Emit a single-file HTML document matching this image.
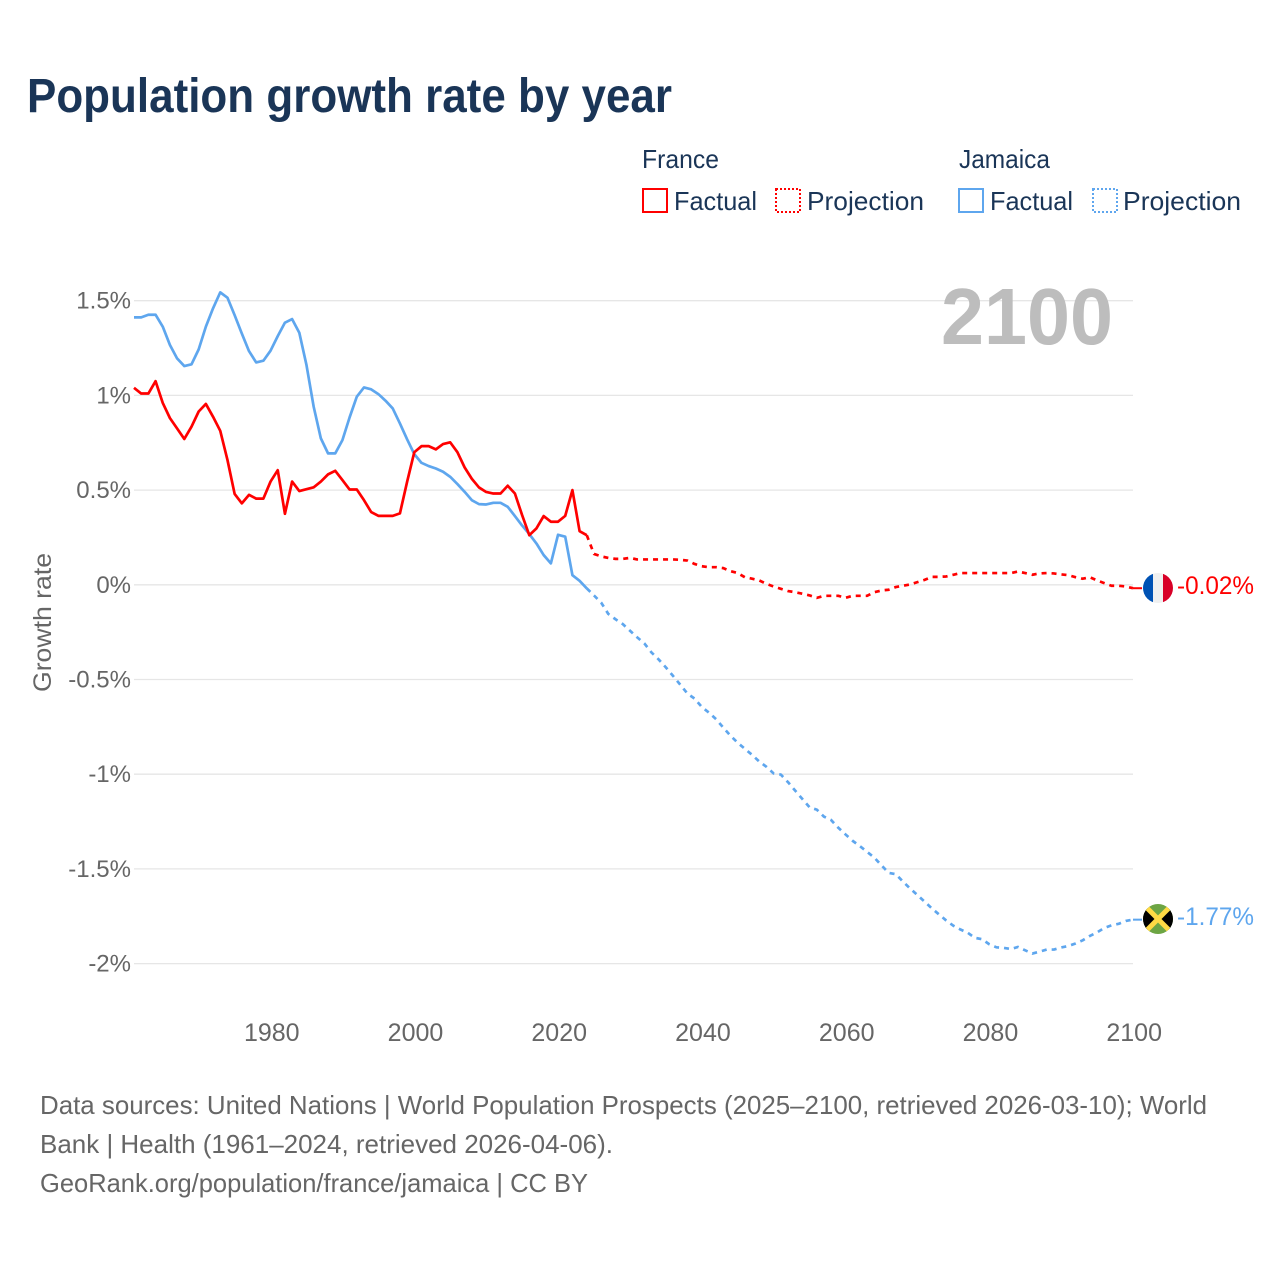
<!DOCTYPE html>
<html lang="en">
<head>
<meta charset="utf-8">
<title>Population growth rate by year</title>
<style>
html,body{margin:0;padding:0;background:#fff;}
svg{display:block;font-family:"Liberation Sans",sans-serif;}
</style>
</head>
<body>
<svg id="chart" width="1280" height="1280" viewBox="0 0 1280 1280" xmlns="http://www.w3.org/2000/svg">
<rect width="1280" height="1280" fill="#fff"/>
<defs>
<clipPath id="flag-clip-fr"><circle cx="1158" cy="588" r="15"/></clipPath>
<clipPath id="flag-clip-jm"><circle cx="1158" cy="919" r="15"/></clipPath>
</defs>
<text x="27" y="112" font-size="48" font-weight="700" fill="#1a3557" textLength="645" lengthAdjust="spacingAndGlyphs">Population growth rate by year</text>

<g font-size="26" fill="#1a3557">
<text x="642" y="168" textLength="77" lengthAdjust="spacingAndGlyphs">France</text>
<rect x="643" y="189" width="24" height="23" fill="none" stroke="#ff0000" stroke-width="2"/>
<text x="674" y="210" textLength="83" lengthAdjust="spacingAndGlyphs">Factual</text>
<rect x="776" y="189" width="24" height="23" fill="none" stroke="#ff0000" stroke-width="2" stroke-dasharray="2 2"/>
<text x="807" y="210" textLength="117" lengthAdjust="spacingAndGlyphs">Projection</text>
<text x="959" y="168" textLength="91" lengthAdjust="spacingAndGlyphs">Jamaica</text>
<rect x="959" y="189" width="24" height="23" fill="none" stroke="#5ea6ee" stroke-width="2"/>
<text x="990" y="210" textLength="83" lengthAdjust="spacingAndGlyphs">Factual</text>
<rect x="1093" y="189" width="24" height="23" fill="none" stroke="#5ea6ee" stroke-width="2" stroke-dasharray="2 2"/>
<text x="1123" y="210" textLength="118" lengthAdjust="spacingAndGlyphs">Projection</text>
</g>

<g id="grid"></g>
<g id="y-ticks" font-size="24" fill="#666" text-anchor="end"></g>
<g id="x-ticks" font-size="25" fill="#666" text-anchor="middle"></g>
<text transform="translate(51 692) rotate(-90)" font-size="25" fill="#666" textLength="139" lengthAdjust="spacingAndGlyphs">Growth rate</text>
<text x="941" y="344" font-size="80" font-weight="700" fill="#bdbdbd" textLength="172" lengthAdjust="spacingAndGlyphs">2100</text>

<g id="series"></g>

<g clip-path="url(#flag-clip-fr)">
<rect x="1143" y="573" width="10" height="30" fill="#0052b4"/>
<rect x="1153" y="573" width="10" height="30" fill="#f0f0f0"/>
<rect x="1163" y="573" width="10" height="30" fill="#d80027"/>
</g>
<text x="1177" y="594" font-size="25" fill="#ff0000" textLength="77" lengthAdjust="spacingAndGlyphs">-0.02%</text>

<g clip-path="url(#flag-clip-jm)">
<rect x="1143" y="904" width="30" height="30" fill="#6da544"/>
<polygon points="1143,904 1158,919 1143,934" fill="#000"/>
<polygon points="1173,904 1158,919 1173,934" fill="#000"/>
<line x1="1143" y1="904" x2="1173" y2="934" stroke="#ffda44" stroke-width="5"/>
<line x1="1173" y1="904" x2="1143" y2="934" stroke="#ffda44" stroke-width="5"/>
</g>
<text x="1177" y="925" font-size="25" fill="#5ea6ee" textLength="77" lengthAdjust="spacingAndGlyphs">-1.77%</text>

<g font-size="26" fill="#666">
<text x="40" y="1114" textLength="1167" lengthAdjust="spacingAndGlyphs">Data sources: United Nations | World Population Prospects (2025–2100, retrieved 2026-03-10); World</text>
<text x="40" y="1153" textLength="573" lengthAdjust="spacingAndGlyphs">Bank | Health (1961–2024, retrieved 2026-04-06).</text>
<text x="40" y="1192" textLength="548" lengthAdjust="spacingAndGlyphs">GeoRank.org/population/france/jamaica | CC BY</text>
</g>
</svg>
<script>
const firstYear = 1961;
const projectionStartYear = 2024;
const yTickValues = [1.5, 1, 0.5, 0, -0.5, -1, -1.5, -2];
const yTickLabels = ["1.5%", "1%", "0.5%", "0%", "-0.5%", "-1%", "-1.5%", "-2%"];
const xTickYears = [1980, 2000, 2020, 2040, 2060, 2080, 2100];
const xTickLabels = ["1980", "2000", "2020", "2040", "2060", "2080", "2100"];

const franceFactual = [
1.04,1.01,1.01,1.075,.96,.88,.825,.77,.835,.915,
.955,.887,.813,.66,.48,.43,.475,.455,.455,.545,
.605,.375,.545,.495,.505,.515,.545,.583,.602,.553,
.503,.503,.447,.384,.364,.364,.364,.377,.544,.70,
.732,.732,.715,.743,.752,.70,.62,.56,.514,.49,
.482,.482,.523,.482,.368,.262,.298,.363,.333,.333,
.364,.50,.283,.262];

const franceProjection = [
.262,.163,.15,.142,.137,.137,
.142,.134,.134,.134,.134,.134,.134,.132,.128,.11,
.098,.093,.093,.088,.072,.062,.04,.032,.023,.005,
-.009,-.021,-.033,-.039,-.047,-.056,-.069,-.058,-.058,-.058,
-.069,-.058,-.058,-.058,-.039,-.03,-.026,-.012,-.005,.002,
.014,.026,.042,.042,.044,.053,.062,.062,.062,.062,
.062,.062,.062,.062,.07,.062,.053,.06,.062,.06,
.055,.051,.04,.032,.04,.023,.009,-.005,-.005,-.009,
-.018];

const jamaicaFactual = [
1.412,1.412,1.426,1.426,1.363,1.266,1.195,1.155,1.164,1.243,
1.363,1.46,1.544,1.516,1.424,1.327,1.234,1.174,1.183,1.236,
1.313,1.384,1.403,1.331,1.16,.94,.773,.694,.694,.764,
.884,.993,1.042,1.032,1.007,.972,.931,.852,.768,.69,
.644,.627,.614,.597,.57,.532,.491,.447,.426,.424,
.433,.433,.412,.363,.313,.268,.218,.157,.113,.264,
.254,.051,.021,-.019];

const jamaicaProjection = [
-.019,-.056,-.094,-.154,-.182,-.207,
-.242,-.277,-.309,-.357,-.394,-.436,-.481,-.527,-.574,-.601,
-.645,-.675,-.71,-.754,-.797,-.834,-.866,-.898,-.933,-.961,
-.996,-1.002,-1.042,-1.087,-1.131,-1.175,-1.187,-1.224,-1.242,-1.283,
-1.318,-1.352,-1.38,-1.41,-1.44,-1.481,-1.521,-1.528,-1.567,-1.604,
-1.638,-1.673,-1.708,-1.74,-1.772,-1.8,-1.82,-1.837,-1.864,-1.871,
-1.898,-1.914,-1.917,-1.923,-1.912,-1.93,-1.947,-1.937,-1.926,-1.926,
-1.915,-1.907,-1.894,-1.877,-1.854,-1.835,-1.812,-1.798,-1.79,-1.775,
-1.768];

const SVG_NS = "http://www.w3.org/2000/svg";
const RED = "#ff0000";
const BLUE = "#5ea6ee";

function xScale(year) { return 134 + (year - firstYear) * 7.187; }
function yScale(value) { return 584.8 - value * 189.4; }

function linePoints(values, startYear) {
  return values.map(function (v, i) {
    return xScale(startYear + i).toFixed(2) + "," + yScale(v).toFixed(2);
  }).join(" ");
}

const gridGroup = document.getElementById("grid");
const yTickGroup = document.getElementById("y-ticks");
const xTickGroup = document.getElementById("x-ticks");
const seriesGroup = document.getElementById("series");

yTickValues.forEach(function (v, i) {
  const gl = document.createElementNS(SVG_NS, "line");
  
  
  gl.setAttribute("x1", 134);
  gl.setAttribute("x2", 1133);
  gl.setAttribute("y1", yScale(v));
  gl.setAttribute("y2", yScale(v));
  gl.setAttribute("stroke", "#e6e6e6");
  gl.setAttribute("stroke-width", "1.3");
  gridGroup.appendChild(gl);

  const t = document.createElementNS(SVG_NS, "text");
  
  
  t.setAttribute("x", 131);
  t.setAttribute("y", yScale(v) + 8);
  t.textContent = yTickLabels[i];
  yTickGroup.appendChild(t);
});

xTickYears.forEach(function (year, i) {
  const t = document.createElementNS(SVG_NS, "text");
  
  
  t.setAttribute("x", xScale(year) + 1.2);
  t.setAttribute("y", 1041);
  t.textContent = xTickLabels[i];
  xTickGroup.appendChild(t);
});

function addLine(name, values, startYear, color, dashed) {
  const p = document.createElementNS(SVG_NS, "polyline");
  
  
  p.setAttribute("points", linePoints(values, startYear));
  p.setAttribute("fill", "none");
  p.setAttribute("stroke", color);
  p.setAttribute("stroke-width", "2.7");
  p.setAttribute("stroke-linejoin", "round");
  if (dashed) { p.setAttribute("stroke-dasharray", "5 5"); }
  seriesGroup.appendChild(p);
}

function addConnector(name, value, color) {
  const c = document.createElementNS(SVG_NS, "line");
  
  
  c.setAttribute("x1", xScale(2100));
  c.setAttribute("x2", 1142);
  c.setAttribute("y1", yScale(value));
  c.setAttribute("y2", yScale(value));
  c.setAttribute("stroke", color);
  c.setAttribute("stroke-width", "2");
  seriesGroup.appendChild(c);
}

addLine("jamaica-projection-line", jamaicaProjection, projectionStartYear, BLUE, true);
addLine("jamaica-factual-line", jamaicaFactual, firstYear, BLUE, false);
addLine("france-projection-line", franceProjection, projectionStartYear, RED, true);
addLine("france-factual-line", franceFactual, firstYear, RED, false);
addConnector("france-end-connector", franceProjection[franceProjection.length - 1], RED);
addConnector("jamaica-end-connector", jamaicaProjection[jamaicaProjection.length - 1], BLUE);
</script>
</body>
</html>
